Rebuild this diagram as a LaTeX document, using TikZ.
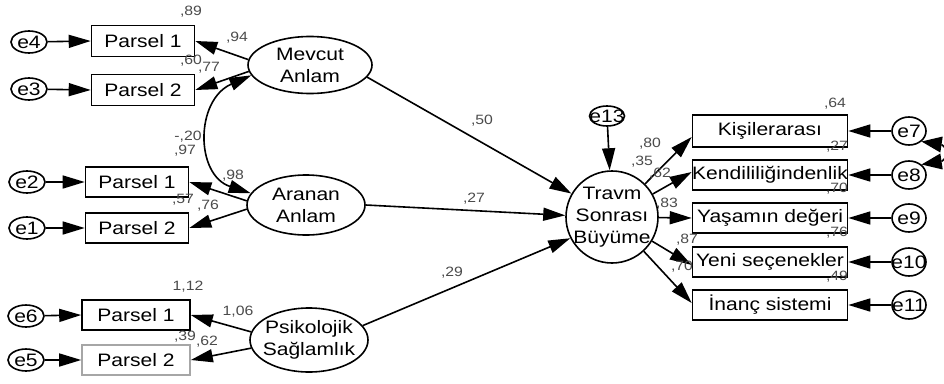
\documentclass[tikz,border=0pt]{standalone}
\usepackage{fontspec}
\setmainfont{Liberation Sans}[FakeStretch=1.17]
\usetikzlibrary{shapes.geometric,arrows.meta,calc}
\definecolor{coefgray}{RGB}{75,75,75}
\newcommand{\zw}[1]{\makebox[0pt]{#1}}
\begin{document}
\begin{tikzpicture}[x=1pt,y=-1pt,
  every node/.style={font=\fontsize{18}{22}\selectfont, inner sep=0pt},
  obs/.style={draw, line width=1.6pt, rectangle, minimum height=31pt},
  lat/.style={draw, line width=1.6pt, ellipse},
  err/.style={draw, line width=1.6pt, ellipse, minimum width=36pt, minimum height=22pt},
  errr/.style={draw, line width=1.6pt, ellipse, minimum width=34pt, minimum height=28pt},
  coef/.style={font=\fontsize{13.5}{14}\selectfont, text=coefgray},
  reg/.style={line width=1.6pt, -{Triangle[length=22pt,width=13pt]}},
  cov/.style={line width=1.6pt, {Triangle[length=22pt,width=13pt]}-{Triangle[length=22pt,width=13pt]}},
]
\useasboundingbox (0,0) rectangle (944,383);

% error terms, left
\node[err] (e4) at (29,42) {\zw{e4}};
\node[err] (e3) at (29,89) {\zw{e3}};
\node[err] (e2) at (27,182) {\zw{e2}};
\node[err] (e1) at (27,228) {\zw{e1}};
\node[err] (e6) at (26,316) {\zw{e6}};
\node[err] (e5) at (26,360) {\zw{e5}};

% indicator parcels
\node[obs, minimum width=103pt] (p1) at (143,41) {\zw{Parsel 1}};
\node[obs, minimum width=103pt] (p2) at (143,90) {\zw{Parsel 2}};
\node[obs, minimum width=103pt, minimum height=30pt] (q1) at (137,182) {\zw{Parsel 1}};
\node[obs, minimum width=103pt, minimum height=30pt] (q2) at (137,228) {\zw{Parsel 2}};
\node[obs, minimum width=108pt, minimum height=30pt] (r1) at (136,315) {\zw{Parsel 1}};
\node[obs, minimum width=108pt, minimum height=30pt, draw=gray!70] (r2) at (136,360) {\zw{Parsel 2}};

% latent variables
\node[lat, minimum width=124pt, minimum height=57pt] (M) at (310,65) {};
\node[align=center] (Mt) at (M) {Mevcut\\Anlam};
\node[lat, minimum width=118pt, minimum height=60pt] (A) at (306,205) {};
\node[align=center] (At) at (A) {Aranan\\Anlam};
\node[lat, minimum width=118pt, minimum height=64pt] (S) at (309,340) {};
\node[align=center] (St) at (S) {Psikolojik\\Sağlamlık};
\node[draw, line width=1.6pt, circle, minimum size=92pt] (T) at (612,217) {};
\node[align=center] (Tt) at (T) {Travm\\Sonrası\\Büyüme};
\node[err, minimum width=35pt, minimum height=20pt] (e13) at (607,116) {\zw{e13}};

% outcome indicators
\node[obs, minimum width=155pt, minimum height=32pt] (K) at (770,131) {\zw{Kişilerarası}};
\node[obs, minimum width=155pt, minimum height=30pt] (D) at (770,175) {\zw{Kendililiğindenlik}};
\node[obs, minimum width=155pt, minimum height=30pt] (Y) at (770,218) {\zw{Yaşamın değeri}};
\node[obs, minimum width=155pt, minimum height=30pt] (N) at (770,262) {\zw{Yeni seçenekler}};
\node[obs, minimum width=155pt, minimum height=30pt] (I) at (770,305) {\zw{İnanç sistemi}};

% error terms, right
\node[errr] (e7) at (909,131) {\zw{e7}};
\node[errr] (e8) at (909,175) {\zw{e8}};
\node[errr] (e9) at (909,218) {\zw{e9}};
\node[errr] (e10) at (909,262) {\zw{e10}};
\node[errr] (e11) at (909,305) {\zw{e11}};

% error paths
\foreach \e/\b in {e4/p1,e3/p2,e2/q1,e1/q2,e6/r1,e5/r2}
  \draw[reg] (\e) -- (\b.west);
\foreach \e/\b in {e7/K,e8/D,e9/Y,e10/N,e11/I}
  \draw[reg] (\e) -- (\b.east);
\draw[reg] (e13) -- (T);

% loadings
\draw[reg] (M.175) -- (p1.east);
\draw[reg] (M.186) -- (p2.east);
\draw[reg] (A.176) -- (q1.east);
\draw[reg] (A.184) -- (q2.east);
\draw[reg] (S.172) -- (r1.east);
\draw[reg] (S.188) -- (r2.east);

\coordinate (tK) at ($(K.west)+(0,6)$);
\coordinate (tD) at ($(D.west)+(0,-3)$);
\coordinate (tN) at ($(N.west)+(0,3)$);
\coordinate (tI) at ($(I.west)+(0,-2)$);
\draw[reg] (T) -- (tK);
\draw[reg] (T) -- (tD);
\draw[reg] (T) -- (Y.west);
\draw[reg] (T) -- (tN);
\draw[reg] (T) -- (tI);

% structural paths
\draw[reg] (M.-12) -- (T.150);
\draw[reg] (A.east) -- (T.178);
\draw[reg] (S.15) -- (T.207);

% covariance between the latent predictors
\draw[cov] (M.190) .. controls (195,100) and (195,175) .. (A.168);

% covariance between e7 and e8: short loop with two large heads
\coordinate (h7) at (e7.-40);
\coordinate (h8) at (e8.40);
\coordinate (b7) at ($(h7)+(20,3)$);
\coordinate (b8) at ($(h8)+(20,-3)$);
\draw[line width=1.6pt] (b7) .. controls ($(b7)+(7,5)$) and ($(b8)+(7,-5)$) .. (b8);
\fill (h7) -- ($(b7)+(1.2,-8)$) -- ($(b7)+(-1.2,8)$) -- cycle;
\fill (h8) -- ($(b8)+(1.2,8)$) -- ($(b8)+(-1.2,-8)$) -- cycle;

% coefficients
\node[coef] (c1) at (191,12) {,89};
\node[coef] (c2) at (237,38) {,94};
\node[coef] (c3) at (191,61) {,60};
\node[coef] (c4) at (209,68) {,77};
\node[coef] (c5) at (188,137) {-,20};
\node[coef] (c6) at (185,151) {,97};
\node[coef] (c7) at (233,176) {,98};
\node[coef] (c8) at (183,200) {,57};
\node[coef] (c9) at (208,206) {,76};
\node[coef] (c10) at (188,287) {1,12};
\node[coef] (c11) at (238,312) {1,06};
\node[coef] (c12) at (185,337) {,39};
\node[coef] (c13) at (207,342) {,62};
\node[coef] (c14) at (482,121) {,50};
\node[coef] (c15) at (474,199) {,27};
\node[coef] (c16) at (452,273) {,29};
\node[coef] (c17) at (835,104) {,64};
\node[coef] (c18) at (650,144) {,80};
\node[coef] (c19) at (642,162) {,35};
\node[coef] (c20) at (660,174) {,62};
\node[coef] (c21) at (837,147) {,27};
\node[coef] (c22) at (837,189) {,70};
\node[coef] (c23) at (667,204) {,83};
\node[coef] (c24) at (837,233) {,76};
\node[coef] (c25) at (687,240) {,87};
\node[coef] (c26) at (682,267) {,70};
\node[coef] (c27) at (837,277) {,49};
\end{tikzpicture}
\end{document}
